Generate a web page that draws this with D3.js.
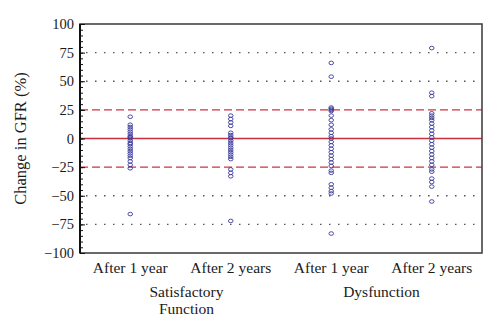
<!DOCTYPE html>
<html>
<head>
<meta charset="utf-8">
<script src="https://cdn.jsdelivr.net/npm/d3@7"></script>
<style>
  body { margin: 0; background: #fff; }
  svg text { font-family: "Liberation Serif", "DejaVu Serif", serif; fill: #1a1a1a; }
</style>
</head>
<body>
<div id="chart"></div>
<script>
// categories and groups
const categories = ["SF1", "SF2", "DF1", "DF2"];
const categoryLabels = ["After 1 year", "After 2 years", "After 1 year", "After 2 years"];
const groupLabels = [["Satisfactory", "Function"], ["Dysfunction"]];
const yTicks = [100, 75, 50, 25, 0, -25, -50, -75, -100];

// change in GFR (%) for each patient
const satisfactory1 = [19, 12, 10, 8, 6, 4, 2, 1, 0, -2, -4, -5, -7, -9, -11, -13, -15, -17, -20, -23, -26, -66];
const satisfactory2 = [20, 17, 14, 11, 5, 3, 1, 0, -2, -4, -6, -8, -10, -12, -14, -16, -18, -27, -30, -33, -72];
const dysfunction1 = [66, 54, 27, 26, 25, 24, 20, 16, 12, 8, 5, 2, 0, -3, -6, -9, -12, -15, -18, -21, -24, -28, -30, -40, -43, -46, -48, -83];
const dysfunction2 = [79, 40, 37, 22, 20, 18, 16, 13, 10, 7, 4, 1, -2, -5, -8, -11, -14, -17, -20, -23, -27, -29, -35, -38, -42, -55];

const series = [satisfactory1, satisfactory2, dysfunction1, dysfunction2];

const margin = { top: 24, right: 18, bottom: 78, left: 80 },
    width = 500 - margin.left - margin.right,
    height = 331 - margin.top - margin.bottom;

let svg = d3.select("#chart")
    .append("svg")
    .attr("width", 500)
    .attr("height", 331)
    .append("g")
    .attr("transform", "translate(" + margin.left + "," + margin.top + ")");

let x = d3.scaleBand()
    .domain(categories)
    .range([0, width]);

let y = d3.scaleLinear()
    .domain([-100, 100])
    .range([height, 0]);

// dotted grid lines
svg.selectAll(".grid")
    .data([75, 50, -50, -75])
    .enter().append("line")
    .attr("x1", 6).attr("x2", width - 6)
    .attr("y1", d => y(d)).attr("y2", d => y(d))
    .attr("stroke", "#555")
    .attr("stroke-width", 1.3)
    .attr("stroke-dasharray", "1.5,7.5");

// +/- 25% limits
svg.selectAll(".limit")
    .data([25, -25])
    .enter().append("line")
    .attr("x1", 0).attr("x2", width)
    .attr("y1", d => y(d)).attr("y2", d => y(d))
    .attr("stroke", "#d3333f")
    .attr("stroke-width", 1.4)
    .attr("stroke-dasharray", "8,4");

// zero line
svg.append("line")
    .attr("x1", 0).attr("x2", width)
    .attr("y1", y(0)).attr("y2", y(0))
    .attr("stroke", "#c8323e")
    .attr("stroke-width", 1.5);

// frame
svg.append("rect")
    .attr("x", 0).attr("y", 0)
    .attr("width", width).attr("height", height)
    .attr("fill", "none")
    .attr("stroke", "#444")
    .attr("stroke-width", 1.6);

// points
series.forEach(function (vals, i) {
    svg.selectAll(".pt" + i)
        .data(vals)
        .enter().append("ellipse")
        .attr("cx", x(categories[i]) + x.bandwidth() / 2)
        .attr("cy", d => y(d))
        .attr("rx", 2.3)
        .attr("ry", 1.8)
        .attr("fill", "none")
        .attr("stroke", "#3a3a9a")
        .attr("stroke-width", 0.9);
});

// Y axis with minor ticks
let yAxis = svg.append("g")
    .call(d3.axisRight(y).tickValues(d3.range(-100, 101, 5)).tickSize(3).tickFormat(""));
yAxis.select(".domain").remove();
yAxis.selectAll("line").attr("stroke", "#111").attr("stroke-width", 1);
svg.append("g")
    .call(d3.axisRight(y).tickValues(yTicks).tickSize(5).tickFormat(""))
    .call(g => g.select(".domain").remove())
    .selectAll("line").attr("stroke", "#111").attr("stroke-width", 1);
svg.append("line")
    .attr("x1", 0).attr("x2", 0)
    .attr("y1", 0).attr("y2", height)
    .attr("stroke", "#111")
    .attr("stroke-width", 2);

svg.selectAll(".ylab")
    .data(yTicks)
    .enter().append("text")
    .attr("x", -6)
    .attr("y", d => y(d))
    .attr("dy", "0.35em")
    .attr("text-anchor", "end")
    .style("font-size", "14.5px")
    .text(d => d < 0 ? "\u2212" + Math.abs(d) : d);

// axis title
svg.append("text")
    .attr("transform", "translate(-54," + (height / 2) + ") rotate(-90)")
    .attr("text-anchor", "middle")
    .style("font-size", "16.5px")
    .text("Change in GFR (%)");

// category labels
svg.selectAll(".xlab")
    .data(categories)
    .enter().append("text")
    .attr("x", d => x(d) + x.bandwidth() / 2)
    .attr("y", height + 20)
    .attr("text-anchor", "middle")
    .style("font-size", "15.5px")
    .text((d, i) => categoryLabels[i]);

// group labels
groupLabels.forEach(function (lines, g) {
    let cx = x(categories[g * 2 + 1]) + (g === 0 ? 6 : 0);
    lines.forEach(function (t, k) {
        svg.append("text")
            .attr("x", cx)
            .attr("y", height + 44 + k * 17)
            .attr("text-anchor", "middle")
            .style("font-size", "15.5px")
            .text(t);
    });
});
</script>
</body>
</html>
